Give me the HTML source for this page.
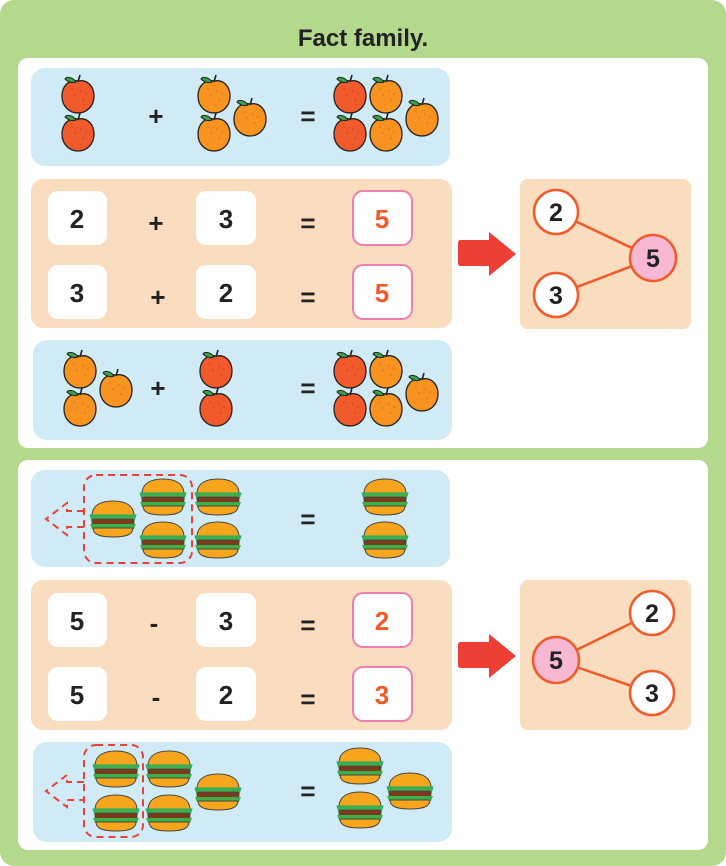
<!DOCTYPE html>
<html><head><meta charset="utf-8"><style>
html,body{margin:0;padding:0;background:#fff}
svg{display:block}
text{font-family:"Liberation Sans",sans-serif;font-weight:bold}
</style></head><body>
<svg width="726" height="866" viewBox="0 0 726 866" xmlns="http://www.w3.org/2000/svg">
<defs>
<g id="red">
<path d="M0,-16 C-10,-18 -16,-10 -16,-1 C-16,10 -8,16 0,16 C8,16 16,10 16,-1 C16,-10 10,-18 0,-16Z" fill="#f15a2b" stroke="#222" stroke-width="1.3"/>
<path d="M-2,-15 C-6,-21 -12,-20 -13,-18 C-9,-14 -5,-14 -2,-15Z" fill="#3aa34a" stroke="#222" stroke-width="1"/>
<path d="M0,-15 L2,-22" stroke="#222" stroke-width="1.6"/>
<g fill="#a33" opacity=".7"><circle cx="-6" cy="-8" r=".8"/><circle cx="3" cy="-6" r=".8"/><circle cx="8" cy="-3" r=".8"/><circle cx="-3" cy="-2" r=".8"/><circle cx="5" cy="3" r=".8"/></g>
</g>
<g id="org">
<path d="M0,-16 C-10,-18 -16,-10 -16,-1 C-16,10 -8,16 0,16 C8,16 16,10 16,-1 C16,-10 10,-18 0,-16Z" fill="#f7931e" stroke="#222" stroke-width="1.3"/>
<path d="M-2,-15 C-6,-21 -12,-20 -13,-18 C-9,-14 -5,-14 -2,-15Z" fill="#3aa34a" stroke="#222" stroke-width="1"/>
<path d="M0,-15 L2,-22" stroke="#222" stroke-width="1.6"/>
<g fill="#b55" opacity=".7"><circle cx="-6" cy="-8" r=".8"/><circle cx="3" cy="-6" r=".8"/><circle cx="8" cy="-3" r=".8"/><circle cx="-3" cy="-2" r=".8"/><circle cx="5" cy="3" r=".8"/></g>
</g>
<g id="bg">
<path d="M-21,-3 C-21,-15 -10,-18 0,-18 C10,-18 21,-15 21,-3Z" fill="#f7a51c" stroke="#444" stroke-width="1"/>
<path d="M-23,-4 L23,-4 L21,2 L-21,2Z" fill="#3cb04a" stroke="#2a6" stroke-width="1"/>
<rect x="-21" y="0" width="42" height="6" rx="2" fill="#7b3a1c" stroke="#444" stroke-width=".8"/>
<path d="M-23,5 L23,5 L21,10 L-21,10Z" fill="#3cb04a"/>
<path d="M-20,9 L20,9 C20,16 12,18 0,18 C-12,18 -20,16 -20,9Z" fill="#f7a51c" stroke="#444" stroke-width="1"/>
</g>
</defs>
<rect x="0" y="0" width="726" height="866" rx="14" fill="#b5d98c"/>
<text x="363" y="46" font-size="24" text-anchor="middle" fill="#222">Fact family.</text>
<rect x="18" y="58" width="690" height="390" rx="10" fill="#fff"/>
<rect x="18" y="460" width="690" height="390" rx="10" fill="#fff"/>

<!-- Panel 1 -->
<rect x="31" y="68" width="419" height="98" rx="14" fill="#d0ebf6"/>
<use href="#red" x="78" y="97"/><use href="#red" x="78" y="135"/>
<text x="156" y="125" font-size="26" text-anchor="middle" fill="#222">+</text>
<use href="#org" x="214" y="97"/><use href="#org" x="214" y="135"/><use href="#org" x="250" y="120"/>
<text x="308" y="125" font-size="26" text-anchor="middle" fill="#222">=</text>
<use href="#red" x="350" y="97"/><use href="#red" x="350" y="135"/><use href="#org" x="386" y="97"/><use href="#org" x="386" y="135"/><use href="#org" x="422" y="120"/>

<rect x="31" y="179" width="421" height="149" rx="12" fill="#fadcbe"/>
<rect x="48" y="191" width="59" height="54" rx="10" fill="#fff"/>
<rect x="196" y="191" width="60" height="54" rx="10" fill="#fff"/>
<rect x="353" y="191" width="59" height="54" rx="10" fill="#fff" stroke="#ef7fae" stroke-width="2"/>
<text x="77" y="228" font-size="26" text-anchor="middle" fill="#222">2</text>
<text x="156" y="232" font-size="26" text-anchor="middle" fill="#222">+</text>
<text x="226" y="228" font-size="26" text-anchor="middle" fill="#222">3</text>
<text x="308" y="232" font-size="26" text-anchor="middle" fill="#222">=</text>
<text x="382" y="228" font-size="26" text-anchor="middle" fill="#f15a2b">5</text>
<rect x="48" y="265" width="59" height="54" rx="10" fill="#fff"/>
<rect x="196" y="265" width="60" height="54" rx="10" fill="#fff"/>
<rect x="353" y="265" width="59" height="54" rx="10" fill="#fff" stroke="#ef7fae" stroke-width="2"/>
<text x="77" y="302" font-size="26" text-anchor="middle" fill="#222">3</text>
<text x="158" y="306" font-size="26" text-anchor="middle" fill="#222">+</text>
<text x="226" y="302" font-size="26" text-anchor="middle" fill="#222">2</text>
<text x="308" y="306" font-size="26" text-anchor="middle" fill="#222">=</text>
<text x="382" y="302" font-size="26" text-anchor="middle" fill="#f15a2b">5</text>

<rect x="33" y="340" width="419" height="100" rx="14" fill="#d0ebf6"/>
<use href="#org" x="80" y="372"/><use href="#org" x="80" y="410"/><use href="#org" x="116" y="391"/>
<text x="158" y="397" font-size="26" text-anchor="middle" fill="#222">+</text>
<use href="#red" x="216" y="372"/><use href="#red" x="216" y="410"/>
<text x="308" y="397" font-size="26" text-anchor="middle" fill="#222">=</text>
<use href="#red" x="350" y="372"/><use href="#red" x="350" y="410"/><use href="#org" x="386" y="372"/><use href="#org" x="386" y="410"/><use href="#org" x="422" y="395"/>

<path d="M460,240 H489 V232 L516,254 L489,276 V266 H460 Q458,266 458,262 V244 Q458,240 460,240Z" fill="#ee3f36"/>
<rect x="520" y="179" width="171" height="150" rx="8" fill="#fadcbe"/>
<line x1="556" y1="212" x2="653" y2="258" stroke="#f15a2b" stroke-width="2.5"/>
<line x1="556" y1="295" x2="653" y2="258" stroke="#f15a2b" stroke-width="2.5"/>
<circle cx="556" cy="212" r="22" fill="#fff" stroke="#f15a2b" stroke-width="2.5"/>
<circle cx="556" cy="295" r="22" fill="#fff" stroke="#f15a2b" stroke-width="2.5"/>
<circle cx="653" cy="258" r="23" fill="#f6b8d2" stroke="#f15a2b" stroke-width="2.5"/>
<text x="556" y="221" font-size="25" text-anchor="middle" fill="#222">2</text>
<text x="556" y="304" font-size="25" text-anchor="middle" fill="#222">3</text>
<text x="653" y="267" font-size="25" text-anchor="middle" fill="#222">5</text>

<!-- Panel 2 -->
<rect x="31" y="470" width="419" height="97" rx="14" fill="#d0ebf6"/>
<rect x="84" y="475" width="108" height="88" rx="12" fill="none" stroke="#e8413a" stroke-width="2" stroke-dasharray="7,5"/>
<path d="M84,511 H67 V503 L46,519 L67,535 V527 H84" fill="none" stroke="#e8413a" stroke-width="2" stroke-dasharray="7,5"/>
<use href="#bg" x="113" y="519"/><use href="#bg" x="163" y="497"/><use href="#bg" x="163" y="540"/><use href="#bg" x="218" y="497"/><use href="#bg" x="218" y="540"/>
<text x="308" y="528" font-size="26" text-anchor="middle" fill="#222">=</text>
<use href="#bg" x="385" y="497"/><use href="#bg" x="385" y="540"/>

<rect x="31" y="580" width="421" height="150" rx="12" fill="#fadcbe"/>
<rect x="48" y="593" width="59" height="54" rx="10" fill="#fff"/>
<rect x="196" y="593" width="60" height="54" rx="10" fill="#fff"/>
<rect x="353" y="593" width="59" height="54" rx="10" fill="#fff" stroke="#ef7fae" stroke-width="2"/>
<text x="77" y="630" font-size="26" text-anchor="middle" fill="#222">5</text>
<text x="154" y="632" font-size="26" text-anchor="middle" fill="#222">-</text>
<text x="226" y="630" font-size="26" text-anchor="middle" fill="#222">3</text>
<text x="308" y="634" font-size="26" text-anchor="middle" fill="#222">=</text>
<text x="382" y="630" font-size="26" text-anchor="middle" fill="#f15a2b">2</text>
<rect x="48" y="667" width="59" height="54" rx="10" fill="#fff"/>
<rect x="196" y="667" width="60" height="54" rx="10" fill="#fff"/>
<rect x="353" y="667" width="59" height="54" rx="10" fill="#fff" stroke="#ef7fae" stroke-width="2"/>
<text x="77" y="704" font-size="26" text-anchor="middle" fill="#222">5</text>
<text x="156" y="706" font-size="26" text-anchor="middle" fill="#222">-</text>
<text x="226" y="704" font-size="26" text-anchor="middle" fill="#222">2</text>
<text x="308" y="708" font-size="26" text-anchor="middle" fill="#222">=</text>
<text x="382" y="704" font-size="26" text-anchor="middle" fill="#f15a2b">3</text>

<rect x="33" y="742" width="419" height="100" rx="14" fill="#d0ebf6"/>
<rect x="84" y="745" width="59" height="92" rx="12" fill="none" stroke="#e8413a" stroke-width="2" stroke-dasharray="7,5"/>
<path d="M84,782 H67 V775 L46,791 L67,807 V800 H84" fill="none" stroke="#e8413a" stroke-width="2" stroke-dasharray="7,5"/>
<use href="#bg" x="116" y="769"/><use href="#bg" x="116" y="813"/><use href="#bg" x="169" y="769"/><use href="#bg" x="169" y="813"/><use href="#bg" x="218" y="792"/>
<text x="308" y="800" font-size="26" text-anchor="middle" fill="#222">=</text>
<use href="#bg" x="360" y="766"/><use href="#bg" x="360" y="810"/><use href="#bg" x="410" y="791"/>

<path d="M460,642 H489 V634 L516,656 L489,678 V668 H460 Q458,668 458,664 V646 Q458,642 460,642Z" fill="#ee3f36"/>
<rect x="520" y="580" width="171" height="150" rx="8" fill="#fadcbe"/>
<line x1="556" y1="660" x2="652" y2="613" stroke="#f15a2b" stroke-width="2.5"/>
<line x1="556" y1="660" x2="652" y2="693" stroke="#f15a2b" stroke-width="2.5"/>
<circle cx="652" cy="613" r="22" fill="#fff" stroke="#f15a2b" stroke-width="2.5"/>
<circle cx="652" cy="693" r="22" fill="#fff" stroke="#f15a2b" stroke-width="2.5"/>
<circle cx="556" cy="660" r="23" fill="#f6b8d2" stroke="#f15a2b" stroke-width="2.5"/>
<text x="652" y="622" font-size="25" text-anchor="middle" fill="#222">2</text>
<text x="652" y="702" font-size="25" text-anchor="middle" fill="#222">3</text>
<text x="556" y="669" font-size="25" text-anchor="middle" fill="#222">5</text>
</svg>
</body></html>
